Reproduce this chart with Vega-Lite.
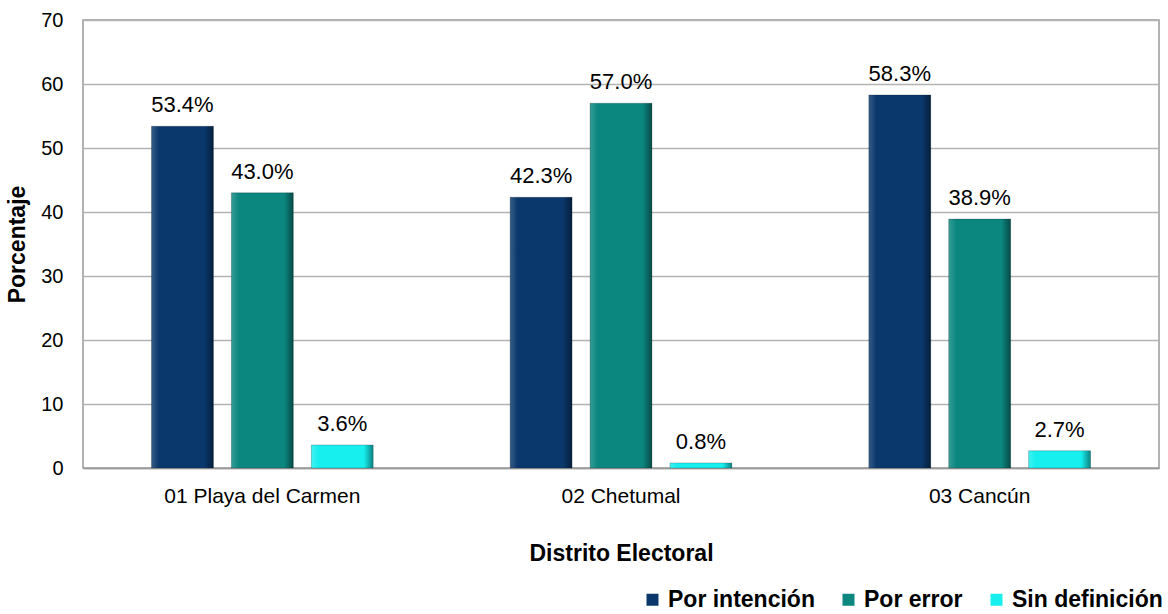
{
  "$schema": "https://vega.github.io/schema/vega-lite/v6.json",
  "width": 1076,
  "height": 448,
  "autosize": {"type": "none"},
  "padding": {"left": 83, "top": 20, "right": 9, "bottom": 146},
  "background": "white",
  "config": {
    "font": "Liberation Sans",
    "view": {"stroke": "#999999", "strokeWidth": 1.5},
    "axis": {"labelFont": "Liberation Sans", "titleFont": "Liberation Sans", "labelColor": "#000000", "titleColor": "#000000"}
  },
  "data": {
    "values": [
      {"distrito": "01 Playa del Carmen", "tipo": "Por intención", "valor": 53.4},
      {"distrito": "01 Playa del Carmen", "tipo": "Por error", "valor": 43.0},
      {"distrito": "01 Playa del Carmen", "tipo": "Sin definición", "valor": 3.6},
      {"distrito": "02 Chetumal", "tipo": "Por intención", "valor": 42.3},
      {"distrito": "02 Chetumal", "tipo": "Por error", "valor": 57.0},
      {"distrito": "02 Chetumal", "tipo": "Sin definición", "valor": 0.8},
      {"distrito": "03 Cancún", "tipo": "Por intención", "valor": 58.3},
      {"distrito": "03 Cancún", "tipo": "Por error", "valor": 38.9},
      {"distrito": "03 Cancún", "tipo": "Sin definición", "valor": 2.7}
    ]
  },
  "transform": [
    {"calculate": "format(datum.valor, '.1f') + '%'", "as": "etiqueta"}
  ],
  "encoding": {
    "x": {
      "field": "distrito", "type": "nominal", "sort": null,
      "scale": {"paddingInner": 0, "paddingOuter": 0},
      "axis": {"labelAngle": 0, "labelFontSize": 21, "labelPadding": 17, "labelLimit": 0, "ticks": false, "domain": true, "domainColor": "#999999", "domainWidth": 1.5, "title": "Distrito Electoral", "titleFontSize": 23, "titleFontWeight": "bold", "titlePadding": 36}
    },
    "xOffset": {"field": "tipo", "type": "nominal", "sort": ["Por intención", "Por error", "Sin definición"], "scale": {"paddingInner": 0.225, "paddingOuter": 0.857}},
    "y": {
      "field": "valor", "type": "quantitative",
      "scale": {"domain": [0, 70], "nice": false},
      "axis": {"values": [0, 10, 20, 30, 40, 50, 60, 70], "labelFontSize": 20, "labelPadding": 20, "labelOverlap": false, "ticks": false, "domain": false, "gridColor": "#b3b3b3", "gridWidth": 1.3, "title": "Porcentaje", "titleFontSize": 23, "titleFontWeight": "bold", "titlePadding": 11}
    }
  },
  "layer": [
    {
      "mark": {"type": "bar"},
      "encoding": {
        "color": {
          "field": "tipo", "type": "nominal", "sort": ["Por intención", "Por error", "Sin definición"],
          "scale": {"domain": ["Por intención", "Por error", "Sin definición"], "range": ["#0a386c", "#0b8780", "#17eeee"]},
          "legend": {"title": null, "orient": "none", "legendX": 558, "legendY": 568, "direction": "horizontal", "symbolType": "square", "symbolSize": 144, "symbolStrokeWidth": 0, "labelFont": "Liberation Sans", "labelFontSize": 23, "labelFontWeight": "bold", "labelColor": "#000000", "labelLimit": 400, "columnPadding": 22, "labelOffset": 4}
        }
      }
    },
    {
      "mark": {
        "type": "bar",
        "fill": {"gradient": "linear", "x1": 0, "y1": 0, "x2": 1, "y2": 0, "stops": [
          {"offset": 0, "color": "rgba(255,255,255,0.18)"},
          {"offset": 0.12, "color": "rgba(255,255,255,0)"},
          {"offset": 0.85, "color": "rgba(0,0,0,0)"},
          {"offset": 1, "color": "rgba(0,0,0,0.45)"}
        ]},
        "stroke": "#000000", "strokeOpacity": 0.25, "strokeWidth": 0.8
      },
      "encoding": {}
    },
    {
      "mark": {"type": "text", "baseline": "alphabetic", "dy": -14, "fontSize": 22, "color": "#000000", "font": "Liberation Sans"},
      "encoding": {
        "text": {"field": "etiqueta", "type": "nominal"}
      }
    }
  ]
}
